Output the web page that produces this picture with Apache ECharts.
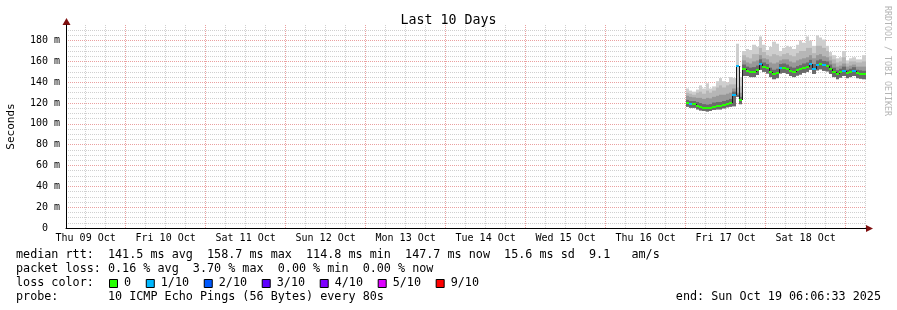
<!DOCTYPE html>
<html><head><meta charset="utf-8">
<script src="https://cdn.jsdelivr.net/npm/echarts@6/dist/echarts.min.js"></script>
<style>html,body{margin:0;padding:0;background:#fff}#c{width:897px;height:310px}</style>
</head><body><div id="c"></div>
<script>
// Time axis: hours since Thu 09 Oct 00:00
const START_H = 6 + 6/60 + 33/3600;     // Thu 09 Oct 06:06:33
const END_H = START_H + 240;            // Sun 19 Oct 06:06:33
const dayLabels = ['Thu 09 Oct','Fri 10 Oct','Sat 11 Oct','Sun 12 Oct','Mon 13 Oct','Tue 14 Oct','Wed 15 Oct','Thu 16 Oct','Fri 17 Oct','Sat 18 Oct'];
const yTickValues = [0,20,40,60,80,100,120,140,160,180];
const firstSampleHour = 192;            // Fri 17 Oct 00:00, one sample per hour

// median RTT (ms)
const median = [120,119,119,117.5,116,115,114.8,115,116.5,117,117,118,119,120,128,156,123,153,151,150,150,152,158,155,153.5,150,147.5,149,153.5,154,153,151,150,151.5,152.5,154,155,157.5,153,157,158,156.5,156,153,150,147.5,149.5,151,148.5,149.5,151,148.5,148,147.5,147.7];
// loss in tenths
const loss = [0,1,0,0,0,0,0,0,0,0,0,0,0,0,1,1,0,0,0,0,0,0,1,0,0,0,0,0,1,0,0,0,0,0,0,0,0,1,1,1,0,1,0,0,0,0,0,1,0,0,1,0,0,0,0];
// smoke (ms)
const smokeMin = [116.5,115.5,115.5,114,113,112.5,112,112.5,113.5,114,114,115,116,116.5,117,126,119,146,146,145,145,147,152,150,148.5,145,143,144,148.5,149,148,146,145,146.5,147.5,149,150,152,148,151.5,152.5,151,150.5,148,145,143,144.5,146,144,145,146,144,143.5,143,143];
const smokeDark = [123,122,122,121,120,119,118.5,119,120.5,121,121,122,123,124,131,128,126,157,155,154,154.5,156,162,159,157.5,154,152,153,157.5,158,157,155,154,155.5,156.5,158,159,161.5,157.5,161,162,160.5,160,157,154,151.5,153,155,152,153,154.5,152,151.5,151,151];
const smokeMid = [127,126,125.5,125,125,124,125,124.5,126,127,128,128,129,130,134,130,130,161,159,158,160,161,166,163,162,159,158,159,161,162,162,160,159,161,162,163,164,166,163,166,167,165,164,161,158,155,156,158,155,156,157,155,155,155,154];
const smokeLight = [130,129,128,130,131,129,132,130,132,135,137,135,137,138,138,135,136,166,164,163,167,167,173,169,166,165,167,166,165,167,168,166,165,168,170,170,173,173,168,175,175,173,170,165,162,159,160,164,158,160,160,159,159,160,158];
const smokeMax = [134,132,131,133,137,134,139,134,136,141,144,141,140,145,144,177,145,170,172,171,176,174,184,176,171,174,179,177,170,173,175,174,172,176,180,178,184,180,175,185,183,181,175,169,166,163,164,170,161,163,164,162,162,166,162];

const lossColors = ['#26ff00','#00b8ff','#0059ff','#5e00ff','#7e00ff','#dd00ff','#ff0000'];
const lossLabels = ['0','1/10','2/10','3/10','4/10','5/10','9/10'];
const smokeShades = ['#cecece','#b6b6b6','#989898','#6a6a6a'];

const statsLine = 'median rtt:  141.5 ms avg  158.7 ms max  114.8 ms min  147.7 ms now  15.6 ms sd  9.1   am/s';
const lossLine  = 'packet loss: 0.16 % avg  3.70 % max  0.00 % min  0.00 % now';
const probeLine = 'probe:       10 ICMP Echo Pings (56 Bytes) every 80s';
const endLine   = 'end: Sun Oct 19 06:06:33 2025';

const FONT = '"DejaVu Sans Mono", monospace';

const dayBoundaryHours = [];
for (let h = 24; h < END_H; h += 24) dayBoundaryHours.push(h);
const sixHourHours = [];
for (let h = 6; h < END_H; h += 6) if (h % 24 !== 0 && h > START_H) sixHourHours.push(h);
const noonHours = dayLabels.map((_, i) => 12 + 24 * i);
const minorY = [];
for (let v = 5; v < 195; v += 5) if (v % 20 !== 0) minorY.push(v);

const smokeRows = median.map((m, i) => [firstSampleHour + i, smokeMin[i], smokeDark[i], smokeMid[i], smokeLight[i], smokeMax[i]]);
const medianRows = median.map((m, i) => [firstSampleHour + i, m, loss[i], i > 0 ? median[i - 1] : m]);

function renderSmoke(params, api) {
  const t = api.value(0);
  const t1 = Math.min(t + 1, END_H);
  const xa = Math.round(api.coord([t, 0])[0]);
  const xb = Math.round(api.coord([t1, 0])[0]);
  const yMin = api.coord([t, api.value(1)])[1];
  const dims = [5, 4, 3, 2];
  const children = dims.map((d, k) => {
    const yt = api.coord([t, api.value(d)])[1];
    return { type: 'rect', shape: { x: xa, y: yt, width: xb - xa, height: yMin - yt }, style: { fill: smokeShades[k] } };
  });
  return { type: 'group', children };
}

function renderMedian(params, api) {
  const t = api.value(0);
  const t1 = Math.min(t + 1, END_H);
  const p = api.coord([t, api.value(1)]);
  const pe = api.coord([t1, api.value(1)]);
  const pp = api.coord([t, api.value(3)]);
  const x0 = Math.round(p[0]), x1 = Math.round(pe[0]);
  const y = Math.round(p[1]), yp = Math.round(pp[1]);
  const li = Math.min(api.value(2), lossColors.length - 1);
  const children = [];
  if (Math.abs(y - yp) > 1) {
    children.push({ type: 'line', shape: { x1: x0 + 0.5, y1: yp, x2: x0 + 0.5, y2: y }, style: { stroke: '#1a1a1a', lineWidth: 1 } });
  }
  children.push({ type: 'line', shape: { x1: x0, y1: y, x2: x1, y2: y }, style: { stroke: lossColors[li], lineWidth: 2 } });
  return { type: 'group', children };
}

// legend graphics
const CH = 7.07;
const graphic = [];
const rowY = [254.5, 268.5, 282.5, 296.5];
function txt(s, x, y, align) {
  return { type: 'text', silent: true, style: { text: s, x, y, font: '11.75px ' + FONT, fill: '#000', textAlign: align || 'left', align: align || 'left', textVerticalAlign: 'middle', verticalAlign: 'middle' } };
}
graphic.push(txt(statsLine, 16, rowY[0]));
graphic.push(txt(lossLine, 16, rowY[1]));
graphic.push(txt('loss color:', 16, rowY[2]));
let bx = 109;
lossLabels.forEach((lab, i) => {
  graphic.push({ type: 'rect', silent: true, shape: { x: bx + 0.5, y: 279.5, width: 8, height: 8 }, style: { fill: lossColors[i], stroke: '#000', lineWidth: 1 } });
  graphic.push(txt(lab, bx + 15, rowY[2]));
  bx += 29.7 + CH * lab.length;
});
graphic.push(txt(probeLine, 16, rowY[3]));
graphic.push(txt(endLine, 881, rowY[3], 'right'));
// axis arrows
graphic.push({ type: 'polygon', silent: true, shape: { points: [[866, 225], [873, 228.5], [866, 232]] }, style: { fill: '#7f1010' } });
graphic.push({ type: 'polygon', silent: true, shape: { points: [[62.5, 25], [66.5, 18], [70.5, 25]] }, style: { fill: '#7f1010' } });
// vertical credit text
graphic.push({ type: 'text', silent: true, x: 887, y: 6, rotation: -Math.PI / 2, style: { text: 'RRDTOOL / TOBI OETIKER', font: '8.3px ' + FONT, fill: '#b4b4b4', textAlign: 'left', align: 'left', textVerticalAlign: 'middle', verticalAlign: 'middle' } });

const gridMajor = { color: '#eaa0a0', type: [1, 1], width: 1 };
const gridMinor = { color: '#d0d0d0', type: [1, 1], width: 1 };

const chart = echarts.init(document.getElementById('c'), null, { renderer: 'canvas', width: 897, height: 310 });
chart.setOption({
  animation: false,
  backgroundColor: '#ffffff',
  title: { text: 'Last 10 Days', left: 'center', top: 14, padding: 0, textStyle: { fontFamily: FONT, fontSize: 13.3, fontWeight: 'normal', color: '#000' } },
  grid: { left: 66, right: 31, top: 25, bottom: 82, containLabel: false, outerBoundsMode: 'none' },
  xAxis: [
    { type: 'value', min: START_H, max: END_H, position: 'bottom',
      axisLine: { show: true, onZero: false, lineStyle: { color: '#000', width: 1 } },
      axisTick: { show: false, customValues: dayBoundaryHours },
      axisLabel: { customValues: noonHours, formatter: v => dayLabels[Math.round((v - 12) / 24)], fontFamily: FONT, fontSize: 10, color: '#000', margin: 5 },
      splitLine: { show: true, lineStyle: gridMajor } },
    { type: 'value', min: START_H, max: END_H, position: 'bottom',
      axisLine: { show: false }, axisTick: { show: false, customValues: sixHourHours }, axisLabel: { show: false },
      splitLine: { show: true, lineStyle: gridMinor } }
  ],
  yAxis: [
    { type: 'value', min: 0, max: 195,
      axisLine: { show: true, onZero: false, lineStyle: { color: '#000', width: 1 } },
      axisTick: { show: false, customValues: yTickValues },
      axisLabel: { customValues: yTickValues, formatter: v => v === 0 ? '0  ' : v + ' m', fontFamily: FONT, fontSize: 10, color: '#000', margin: 6 },
      splitLine: { show: true, lineStyle: gridMajor },
      name: 'Seconds', nameLocation: 'middle', nameRotate: 90, nameGap: 49,
      nameTextStyle: { fontFamily: FONT, fontSize: 11, color: '#000' } },
    { type: 'value', min: 0, max: 195, position: 'left',
      axisLine: { show: false }, axisTick: { show: false, customValues: minorY }, axisLabel: { show: false },
      splitLine: { show: true, lineStyle: gridMinor } }
  ],
  series: [
    { type: 'custom', name: 'smoke', xAxisIndex: 0, yAxisIndex: 0, clip: true, renderItem: renderSmoke,
      encode: { x: 0, y: [1, 5] }, data: smokeRows, silent: true },
    { type: 'custom', name: 'median', xAxisIndex: 0, yAxisIndex: 0, clip: true, renderItem: renderMedian,
      encode: { x: 0, y: 1 }, data: medianRows, silent: true, z: 3 }
  ],
  graphic: graphic
});
</script>
</body></html>
